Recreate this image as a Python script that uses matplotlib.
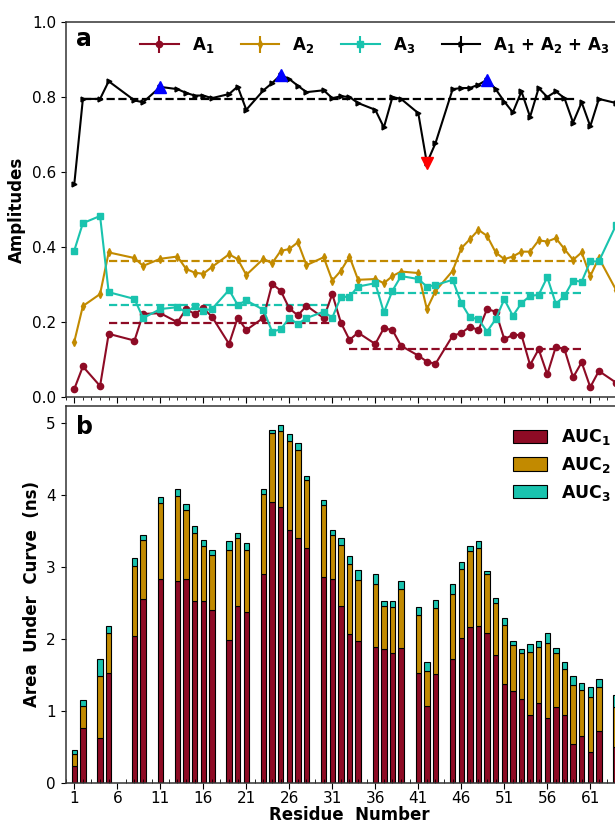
import numpy as np
import matplotlib.pyplot as plt
from matplotlib.patches import Patch

# residues that have data (prolines / gaps left out)
residues = [1, 2, 4, 5, 8, 9, 11, 13, 14, 15, 16, 17, 19, 20, 21, 23, 24, 25,
            26, 27, 28, 30, 31, 32, 33, 34, 36, 37, 38, 39, 41, 42, 43, 45, 46,
            47, 48, 49, 50, 51, 52, 53, 54, 55, 56, 57, 58, 59, 60, 61, 62, 64]

# panel a: amplitudes
A1 = [0.022, 0.082, 0.030, 0.169, 0.151, 0.222, 0.224, 0.200, 0.235, 0.222,
      0.237, 0.215, 0.142, 0.212, 0.179, 0.212, 0.302, 0.284, 0.237, 0.218,
      0.244, 0.211, 0.275, 0.199, 0.153, 0.172, 0.142, 0.184, 0.179, 0.137,
      0.111, 0.095, 0.089, 0.164, 0.171, 0.188, 0.179, 0.235, 0.228, 0.155,
      0.166, 0.166, 0.086, 0.128, 0.061, 0.135, 0.128, 0.053, 0.093, 0.027,
      0.070, 0.039]
A2 = [0.148, 0.243, 0.275, 0.386, 0.371, 0.350, 0.369, 0.375, 0.342, 0.332,
      0.329, 0.347, 0.381, 0.368, 0.326, 0.369, 0.357, 0.390, 0.395, 0.413,
      0.352, 0.373, 0.311, 0.337, 0.375, 0.313, 0.315, 0.304, 0.323, 0.335,
      0.331, 0.235, 0.283, 0.337, 0.397, 0.421, 0.446, 0.430, 0.386, 0.368,
      0.375, 0.388, 0.388, 0.418, 0.415, 0.424, 0.395, 0.366, 0.386, 0.323,
      0.371, 0.286]
A3 = [0.391, 0.464, 0.483, 0.280, 0.262, 0.211, 0.235, 0.240, 0.226, 0.242,
      0.231, 0.235, 0.286, 0.246, 0.258, 0.233, 0.175, 0.181, 0.211, 0.195,
      0.211, 0.228, 0.212, 0.267, 0.268, 0.295, 0.304, 0.226, 0.284, 0.323,
      0.315, 0.295, 0.299, 0.313, 0.251, 0.213, 0.208, 0.175, 0.208, 0.261,
      0.217, 0.251, 0.270, 0.273, 0.320, 0.249, 0.270, 0.311, 0.308, 0.362,
      0.362, 0.459]
A_sum = [0.568, 0.795, 0.795, 0.842, 0.791, 0.786, 0.827, 0.821, 0.811, 0.804,
         0.804, 0.797, 0.808, 0.828, 0.766, 0.818, 0.837, 0.859, 0.848, 0.830,
         0.813, 0.818, 0.797, 0.802, 0.800, 0.784, 0.766, 0.719, 0.800, 0.795,
         0.757, 0.624, 0.677, 0.821, 0.824, 0.824, 0.833, 0.846, 0.821, 0.788,
         0.759, 0.815, 0.747, 0.824, 0.800, 0.815, 0.797, 0.732, 0.786, 0.722,
         0.795, 0.784]

# highlighted residues on the total curve
max_res = [11, 25, 49]
min_res = [42]

# segment means (start residue, end residue, value)
mean_A1 = [(5, 31, 0.199), (33, 60, 0.128)]
mean_A2 = [(5, 60, 0.362)]
mean_A3 = [(5, 31, 0.246), (33, 60, 0.277)]
mean_sum = [(2, 59.3, 0.795)]

# panel b: area under curve (ns)
AUC1 = [0.23, 0.76, 0.63, 1.53, 2.04, 2.56, 2.84, 2.81, 2.83, 2.53, 2.53, 2.41,
        1.99, 2.46, 2.37, 2.91, 3.91, 3.84, 3.51, 3.41, 3.26, 2.87, 2.84, 2.46,
        2.07, 1.97, 1.89, 1.86, 1.80, 1.88, 1.53, 1.07, 1.52, 1.72, 2.01, 2.17,
        2.18, 2.09, 1.78, 1.38, 1.28, 1.17, 0.94, 1.115, 0.90, 1.05, 0.95, 0.54,
        0.65, 0.43, 0.72, 0.50]
AUC2 = [0.17, 0.31, 0.86, 0.56, 0.98, 0.82, 1.05, 1.18, 0.96, 0.95, 0.77, 0.76,
        1.25, 0.94, 0.875, 1.10, 0.95, 1.05, 1.24, 1.22, 0.95, 0.99, 0.61, 0.85,
        0.98, 0.85, 0.87, 0.60, 0.64, 0.81, 0.80, 0.49, 0.91, 0.91, 0.97, 1.05,
        1.09, 0.81, 0.72, 0.81, 0.64, 0.63, 0.88, 0.775, 1.05, 0.75, 0.64, 0.82,
        0.64, 0.76, 0.61, 0.56]
AUC3 = [0.06, 0.09, 0.23, 0.09, 0.11, 0.07, 0.09, 0.10, 0.085, 0.09, 0.075,
        0.07, 0.12, 0.07, 0.095, 0.08, 0.05, 0.08, 0.10, 0.09, 0.05, 0.08, 0.06,
        0.10, 0.11, 0.14, 0.15, 0.07, 0.09, 0.12, 0.12, 0.12, 0.11, 0.13, 0.085,
        0.08, 0.09, 0.05, 0.065, 0.10, 0.05, 0.06, 0.11, 0.08, 0.14, 0.08, 0.09,
        0.13, 0.095, 0.15, 0.11, 0.16]

c1 = '#8e0b25'
c2 = '#c28a00'
c3 = '#19c3ae'

x = np.array(residues)
fig = plt.figure(figsize=(6.15, 8.23), dpi=100)

# axes run past the right edge of the figure, as in the cropped original
ax1 = fig.add_axes([0.1068, 0.5173, 0.9229, 0.4560])
ax2 = fig.add_axes([0.1068, 0.0486, 0.9229, 0.4581])

# ---- panel a
ax1.errorbar(x, A1, yerr=0, color=c1, marker='o', ms=4.5, lw=1.5,
             label=r'$\mathbf{A_1}$')
ax1.errorbar(x, A2, yerr=0, color=c2, marker='d', ms=4, lw=1.5,
             label=r'$\mathbf{A_2}$')
ax1.errorbar(x, A3, yerr=0, color=c3, marker='s', ms=4.5, lw=1.5,
             label=r'$\mathbf{A_3}$')
ax1.errorbar(x, A_sum, yerr=0, color='black', marker='>', ms=3.5, lw=1.5,
             label=r'$\mathbf{A_1}$ + $\mathbf{A_2}$ + $\mathbf{A_3}$')

sum_lookup = dict(zip(residues, A_sum))
ax1.plot(max_res, [sum_lookup[r] for r in max_res], ls='none', marker='^',
         ms=8, color='blue', zorder=5)
ax1.plot(min_res, [sum_lookup[r] for r in min_res], ls='none', marker='v',
         ms=8, color='red', zorder=5)

for means, col in [(mean_A1, c1), (mean_A2, c2), (mean_A3, c3),
                   (mean_sum, 'black')]:
    for start, end, val in means:
        ax1.hlines(val, start, end, colors=col, linestyles='--', lw=1.6)

ax1.set_xlim(0, 66)
ax1.set_ylim(0, 1.0)
ax1.set_yticks([0.0, 0.2, 0.4, 0.6, 0.8, 1.0])
ax1.set_xticks(np.arange(1, 62, 5))
ax1.set_xticks(np.arange(0, 67, 1), minor=True)
ax1.tick_params(axis='x', which='both', labelbottom=False)
ax1.tick_params(axis='x', which='major', length=4)
ax1.tick_params(axis='x', which='minor', length=2.5)
ax1.tick_params(axis='y', labelsize=11)
ax1.set_ylabel('Amplitudes', fontsize=12, fontweight='bold')
ax1.text(0.018, 0.987, 'a', transform=ax1.transAxes, fontsize=17,
         fontweight='bold', va='top', ha='left')
ax1.legend(loc='center', bbox_to_anchor=(0.545, 0.938), ncol=4,
           frameon=False, prop={'size': 12, 'weight': 'bold'},
           handlelength=2.3, columnspacing=1.6, handletextpad=0.8)

# ---- panel b
w = 0.62
b2 = np.array(AUC1) + np.array(AUC2)
ax2.bar(x, AUC1, width=w, color=c1, edgecolor='black', lw=0.8)
ax2.bar(x, AUC2, width=w, bottom=AUC1, color=c2, edgecolor='black', lw=0.8)
ax2.bar(x, AUC3, width=w, bottom=b2, color=c3, edgecolor='black', lw=0.8)

ax2.set_xlim(0, 66)
ax2.set_ylim(0, 5.24)
ax2.set_yticks([0, 1, 2, 3, 4, 5])
ax2.set_xticks(np.arange(1, 62, 5))
ax2.set_xticks(np.arange(0, 67, 1), minor=True)
ax2.tick_params(axis='x', which='major', length=4, labelsize=11, pad=2)
ax2.tick_params(axis='x', which='minor', direction='in', length=3)
ax2.tick_params(axis='y', labelsize=11)
ax2.set_xlabel('Residue  Number', fontsize=12, fontweight='bold', labelpad=0)
ax2.set_ylabel('Area  Under  Curve  (ns)', fontsize=12, fontweight='bold')
ax2.text(0.018, 0.975, 'b', transform=ax2.transAxes, fontsize=17,
         fontweight='bold', va='top', ha='left')
handles = [Patch(facecolor=c, edgecolor='black', lw=0.8) for c in (c1, c2, c3)]
ax2.legend(handles, [r'$\mathbf{AUC_1}$', r'$\mathbf{AUC_2}$',
                     r'$\mathbf{AUC_3}$'],
           loc='upper left', bbox_to_anchor=(0.76, 0.985), frameon=False,
           fontsize=12.5, handlelength=2.0, handleheight=0.8,
           handletextpad=0.8, labelspacing=0.45)

for ax in (ax1, ax2):
    for sp in ax.spines.values():
        sp.set_color('#333333')
        sp.set_linewidth(1.1)

fig.savefig('out.png', dpi=100)
